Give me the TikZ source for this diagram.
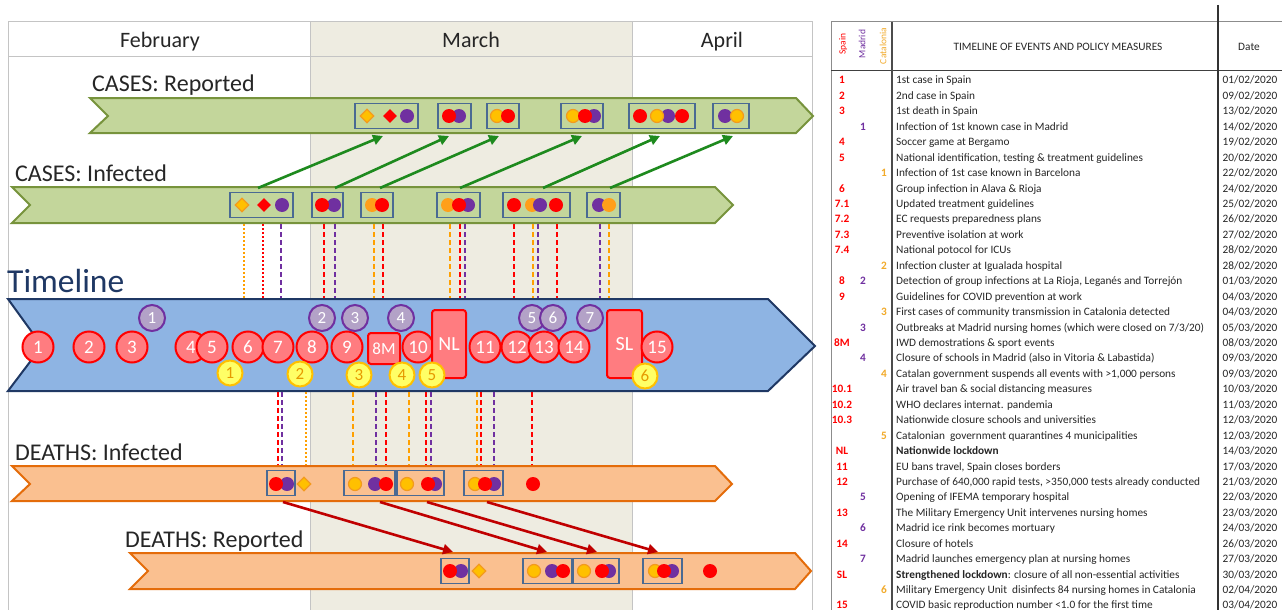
\documentclass[tikz,border=0pt]{standalone}
\usepackage{fontspec}
\setmainfont{Carlito}
\usetikzlibrary{arrows.meta,shapes.geometric}
\definecolor{cR}{HTML}{FF0000}
\definecolor{cP}{HTML}{7030A0}
\definecolor{cG}{HTML}{FFC000}
\definecolor{cO}{HTML}{F39A1E}
\definecolor{cOi}{HTML}{FF9F1A}
\definecolor{cL}{HTML}{FFA000}
\definecolor{cC}{HTML}{F2AA2A}
\definecolor{mshade}{HTML}{EEECE1}
\definecolor{frm}{HTML}{C4C4C4}
\definecolor{grnF}{HTML}{C3D69B}
\definecolor{grnD}{HTML}{77933C}
\definecolor{bluF}{HTML}{8EB4E3}
\definecolor{bluD}{HTML}{1F3864}
\definecolor{orF}{HTML}{FAC090}
\definecolor{orD}{HTML}{E46C0A}
\definecolor{bxc}{HTML}{4A6A93}
\definecolor{arG}{HTML}{1E8A1E}
\definecolor{arR}{HTML}{C00000}
\definecolor{pnk}{HTML}{FF7C80}
\definecolor{lav}{HTML}{B3A2C7}
\definecolor{yel}{HTML}{FFFF66}
\definecolor{ytx}{HTML}{E69A00}
\definecolor{txt}{HTML}{262626}
\newcounter{dn}
\newcommand{\mkd}[3]{\stepcounter{dn}\node[#1] (d\thedn) at (#2,#3) {};}
\newcommand{\trow}[6]{%
  \pgfmathsetmacro{\ry}{80+(#1-1)*15.44+4}%
  \node[tsp] (rs#1) at (842,\ry) {#2};
  \node[tma] (rm#1) at (863,\ry) {#3};
  \node[tca] (rc#1) at (884,\ry) {#4};
  \node[ttx] (rt#1) at (896,\ry) {#5};
  \node[tdt] (rd#1) at (1250,\ry) {#6};
}
\tikzset{
  dR/.style={circle,inner sep=0,minimum size=14,fill=cR},
  dP/.style={circle,inner sep=0,minimum size=14,fill=cP},
  dG/.style={circle,inner sep=0,minimum size=13,fill=cG,draw=cO,line width=1.2},
  dO/.style={circle,inner sep=0,minimum size=14,fill=cOi},
  kR/.style={diamond,inner sep=0,minimum size=14,fill=cR},
  kG/.style={diamond,inner sep=0,minimum size=14,fill=cG,draw=cO,line width=1.2},
  bx/.style={draw=bxc,line width=1.6,inner sep=0,minimum height=25},
  tR/.style={circle,inner sep=0,minimum size=31,fill=pnk,draw=cR,line width=2,text=white,font=\fontsize{19}{19}\selectfont},
  tP/.style={circle,inner sep=0,minimum size=26,fill=lav,draw=cP,line width=2,text=white,font=\fontsize{17}{17}\selectfont},
  tY/.style={circle,inner sep=0,minimum size=25,fill=yel,draw=cG,line width=2,text=ytx,font=\fontsize{17}{17}\selectfont},
  tQ/.style={rounded corners=3,inner sep=0,fill=pnk,draw=cR,line width=2,text=white},
  lbl/.style={anchor=base west,inner sep=0,text=txt,font=\fontsize{24}{24}\selectfont},
  mon/.style={anchor=base,inner sep=0,text=txt,font=\fontsize{22}{22}\selectfont},
  dl/.style={line width=2.2,dash pattern=on 5pt off 3pt},
  dt/.style={line width=2.2,dash pattern=on 2pt off 2pt},
  gar/.style={draw=arG,line width=2.6,-{Triangle[length=10,width=10]}},
  rar/.style={draw=arR,line width=2.6,-{Triangle[length=10,width=10]}},
  tsp/.style={anchor=base,inner sep=0,text=cR,font=\fontsize{11.3}{12}\selectfont\bfseries},
  tma/.style={anchor=base,inner sep=0,text=cP,font=\fontsize{11.3}{12}\selectfont\bfseries},
  tca/.style={anchor=base,inner sep=0,text=cC,font=\fontsize{11.3}{12}\selectfont\bfseries},
  ttx/.style={anchor=base west,inner sep=0,text=txt,font=\fontsize{11.3}{12}\selectfont},
  tdt/.style={anchor=base,inner sep=0,text=txt,font=\fontsize{11.3}{12}\selectfont},
}
\begin{document}
\begin{tikzpicture}[x=1pt,y=-1pt]
\useasboundingbox (0,0) rectangle (1282,610);
\fill[white] (0,0) rectangle (1282,610);
% ---- left panel frame
\fill[mshade] (310,22) rectangle (632,610);
\draw[frm,line width=1] (8,610) -- (8,22) -- (812,22) -- (812,610);
\draw[frm,line width=1] (8,57) -- (812,57);
\draw[frm,line width=1] (310,22) -- (310,610);
\draw[frm,line width=1] (632,22) -- (632,610);
\node[mon] (mfeb) at (160,48) {February};
\node[mon] (mmar) at (471,48) {March};
\node[mon] (mapr) at (722,48) {April};
% ---- bars
\draw[fill=grnF,draw=grnD,line width=2] (90,98) -- (796,98) -- (813,116) -- (796,133) -- (90,133) -- (108,116) -- cycle;
\draw[fill=grnF,draw=grnD,line width=2] (12,187) -- (715,187) -- (733,205) -- (715,223) -- (12,223) -- (30,205) -- cycle;
\draw[fill=bluF,draw=bluD,line width=2] (8,299) -- (768,299) -- (815,346) -- (768,391) -- (8,391) -- (42,346) -- cycle;
\draw[fill=orF,draw=orD,line width=2] (12,466) -- (715,466) -- (732,484) -- (715,501) -- (12,501) -- (30,484) -- cycle;
\draw[fill=orF,draw=orD,line width=2] (130,553) -- (795,553) -- (811,571) -- (795,589) -- (130,589) -- (148,571) -- cycle;
\node[lbl] (lcr) at (92,92) {CASES: Reported};
\node[lbl] (lci) at (15,181) {CASES: Infected};
\node[lbl] (ldi) at (15,460) {DEATHS: Infected};
\node[lbl] (ldr) at (125,547) {DEATHS: Reported};
\node[anchor=base west,inner sep=0,text=bluD,font=\fontsize{33.5}{33.5}\selectfont] (ltl) at (7,292) {Timeline};
% ---- dashed lines
\foreach \x/\c in {281/cP,324/cR,335/cP,374/cL,383/cR,450/cL,460/cR,465/cP,514/cR,533/cL,538/cP,557/cR,600/cP,609/cL}
  \draw[dl,draw=\c] (\x,224) -- (\x,298);
\foreach \x/\c in {244/cL,263/cR}
  \draw[dt,draw=\c] (\x,224) -- (\x,298);
\foreach \x/\c in {278/cR,282/cP,353/cL,376/cP,386/cR,409/cL,426/cR,431/cP,477/cL,481/cR,494/cP,532/cR}
  \draw[dl,draw=\c] (\x,392) -- (\x,465);
\draw[dt,draw=cL] (306,392) -- (306,465);
% ---- CASES reported
\node[bx,minimum width=63] (cr1) at (386.5,116) {};
\node[bx,minimum width=33] (cr2) at (454.5,116) {};
\node[bx,minimum width=32] (cr3) at (503,116) {};
\node[bx,minimum width=42] (cr4) at (582,116) {};
\node[bx,minimum width=66] (cr5) at (662,116) {};
\node[bx,minimum width=36] (cr6) at (731,116) {};
\mkd{kG}{367}{116}\mkd{kR}{390}{116}\mkd{dP}{407}{116}
\mkd{dP}{459}{116}\mkd{dR}{449}{116}
\mkd{dG}{497}{116}\mkd{dR}{508}{116}
\mkd{dG}{573}{116}\mkd{dP}{594}{116}\mkd{dR}{585}{116}
\mkd{dR}{640}{116}\mkd{dP}{668}{116}\mkd{dG}{657}{116}\mkd{dR}{682}{116}
\mkd{dP}{725}{116}\mkd{dG}{737}{116}
% ---- CASES infected
\node[bx,minimum width=63] (ci1) at (261.5,205) {};
\node[bx,minimum width=31] (ci2) at (327.5,205) {};
\node[bx,minimum width=32] (ci3) at (377,205) {};
\node[bx,minimum width=43] (ci4) at (458.5,205) {};
\node[bx,minimum width=67] (ci5) at (536.5,205) {};
\node[bx,minimum width=33] (ci6) at (603.5,205) {};
\mkd{kG}{242}{205}\mkd{kR}{264}{205}\mkd{dP}{282}{205}
\mkd{dP}{334}{205}\mkd{dR}{322}{205}
\mkd{dO}{372}{205}\mkd{dR}{382}{205}
\mkd{dO}{448}{205}\mkd{dP}{468}{205}\mkd{dR}{459}{205}
\mkd{dR}{514}{205}\mkd{dO}{532}{205}\mkd{dP}{540}{205}\mkd{dR}{556}{205}
\mkd{dP}{599}{205}\mkd{dO}{609}{205}
% ---- green arrows
\foreach \i/\a/\b in {1/258/383,2/335/449,3/380/499,4/460/582,5/543/660,6/610/733}{
  \coordinate (gs\i) at (\a,188);
  \coordinate (ge\i) at (\b,136);
  \draw[gar] (gs\i) -- (ge\i);
}
% ---- DEATHS infected
\node[bx,minimum width=28] (di1) at (281,483) {};
\node[bx,minimum width=51] (di2) at (369.5,483) {};
\node[bx,minimum width=47] (di3) at (420.5,483) {};
\node[bx,minimum width=39] (di4) at (483.5,483) {};
\mkd{dP}{287}{484}\mkd{dR}{276}{484}
\mkd{kG}{304}{484}
\mkd{dG}{355}{484}\mkd{dP}{375}{484}\mkd{dR}{386}{484}
\mkd{dG}{407}{484}\mkd{dP}{435}{484}\mkd{dR}{428}{484}
\mkd{dG}{475}{484}\mkd{dP}{494}{484}\mkd{dR}{485}{484}
\mkd{dR}{533}{484}
% ---- DEATHS reported
\node[bx,minimum width=28] (dr1) at (455,571) {};
\node[bx,minimum width=49] (dr2) at (547.5,571) {};
\node[bx,minimum width=46] (dr3) at (596,571) {};
\node[bx,minimum width=39] (dr4) at (662.5,571) {};
\mkd{dP}{461}{571}\mkd{dR}{450}{571}
\mkd{kG}{479}{571}
\mkd{dG}{534}{571}\mkd{dP}{552}{571}\mkd{dR}{563}{571}
\mkd{dG}{584}{571}\mkd{dP}{609}{571}\mkd{dR}{602}{571}
\mkd{dG}{655}{571}\mkd{dP}{672}{571}\mkd{dR}{664}{571}
\mkd{dR}{710}{571}
% ---- red arrows
\foreach \i/\a/\b in {1/283/453,2/380/547,3/427/597,4/487/658}{
  \coordinate (rs\i) at (\a,502);
  \coordinate (re\i) at (\b,552);
  \draw[rar] (rs\i) -- (re\i);
}
% ---- timeline events
\node[tR] (e1) at (38,347) {1};
\node[tR] (e2) at (89,347) {2};
\node[tR] (e3) at (132,347) {3};
\node[tR] (e4) at (191,347) {4};
\node[tR] (e5) at (212,347) {5};
\node[tR] (e6) at (248,347) {6};
\node[tR] (e7) at (278,347) {7};
\node[tR] (e8) at (312,347) {8};
\node[tR] (e9) at (347,347) {9};
\node[tQ,minimum width=32,minimum height=31,font=\fontsize{17}{17}\selectfont] (e8M) at (384,348.5) {8M};
\node[tR] (e10) at (418,347) {10};
\node[tQ,minimum width=34,minimum height=68,font=\fontsize{20}{20}\selectfont] (eNL) at (449,344) {NL};
\node[tR] (e11) at (485,347) {11};
\node[tR] (e12) at (517,347) {12};
\node[tR] (e13) at (544,347) {13};
\node[tR] (e14) at (574,347) {14};
\node[tQ,minimum width=35,minimum height=68,font=\fontsize{20}{20}\selectfont] (eSL) at (624.5,344) {SL};
\node[tR] (e15) at (657,347) {15};
\node[tP] (m1) at (152,318) {1};
\node[tP] (m2) at (322,318) {2};
\node[tP] (m3) at (355,318) {3};
\node[tP] (m4) at (401,318) {4};
\node[tP] (m5) at (532,318) {5};
\node[tP] (m6) at (553,318) {6};
\node[tP] (m7) at (590,318) {7};
\node[tY] (c1) at (230,373) {1};
\node[tY] (c2) at (300,374) {2};
\node[tY] (c3) at (359,375) {3};
\node[tY] (c4) at (402,375) {4};
\node[tY] (c5) at (432,375) {5};
\node[tY] (c6) at (645,376) {6};
% ---- table
\draw[black!45,line width=1] (831,610) -- (831,22) -- (1282,22);
\draw[black!75,line width=1] (831,71) -- (1282,71);
\draw[black!70,line width=1.2] (892,22) -- (892,610);
\draw[black!80,line width=1.2] (1218,5) -- (1218,610);
\node[rotate=90,inner sep=0,text=cR,font=\fontsize{9.5}{9.5}\selectfont] (hsp) at (843,44) {Spain};
\node[rotate=90,inner sep=0,text=cP,font=\fontsize{9.5}{9.5}\selectfont] (hma) at (862,44) {Madrid};
\node[rotate=90,inner sep=0,text=cC,font=\fontsize{9.5}{9.5}\selectfont] (hca) at (883,46) {Catalonia};
\node[inner sep=0,text=txt,font=\fontsize{11.3}{12}\selectfont] (hti) at (1058,47) {TIMELINE OF EVENTS AND POLICY MEASURES};
\node[inner sep=0,text=txt,font=\fontsize{11.3}{12}\selectfont] (hdt) at (1249,47) {Date};
\trow{1}{1}{}{}{1st case in Spain}{01/02/2020}
\trow{2}{2}{}{}{2nd case in Spain}{09/02/2020}
\trow{3}{3}{}{}{1st death in Spain}{13/02/2020}
\trow{4}{}{1}{}{Infection of 1st known case in Madrid}{14/02/2020}
\trow{5}{4}{}{}{Soccer game at Bergamo}{19/02/2020}
\trow{6}{5}{}{}{National identification, testing \& treatment guidelines}{20/02/2020}
\trow{7}{}{}{1}{Infection of 1st case known in Barcelona}{22/02/2020}
\trow{8}{6}{}{}{Group infection in Alava \& Rioja}{24/02/2020}
\trow{9}{7.1}{}{}{Updated treatment guidelines}{25/02/2020}
\trow{10}{7.2}{}{}{EC requests preparedness plans}{26/02/2020}
\trow{11}{7.3}{}{}{Preventive isolation at work}{27/02/2020}
\trow{12}{7.4}{}{}{National potocol for ICUs}{28/02/2020}
\trow{13}{}{}{2}{Infection cluster at Igualada hospital}{28/02/2020}
\trow{14}{8}{2}{}{Detection of group infections at La Rioja, Leganés and Torrejón}{01/03/2020}
\trow{15}{9}{}{}{Guidelines for COVID prevention at work}{04/03/2020}
\trow{16}{}{}{3}{First cases of community transmission in Catalonia detected}{04/03/2020}
\trow{17}{}{3}{}{Outbreaks at Madrid nursing homes (which were closed on 7/3/20)}{05/03/2020}
\trow{18}{8M}{}{}{IWD demostrations \& sport events}{08/03/2020}
\trow{19}{}{4}{}{Closure of schools in Madrid (also in Vitoria \& Labastida)}{09/03/2020}
\trow{20}{}{}{4}{Catalan government suspends all events with >1,000 persons}{09/03/2020}
\trow{21}{10.1}{}{}{Air travel ban \& social distancing measures}{10/03/2020}
\trow{22}{10.2}{}{}{WHO declares internat. pandemia}{11/03/2020}
\trow{23}{10.3}{}{}{Nationwide closure schools and universities}{12/03/2020}
\trow{24}{}{}{5}{Catalonian\ \ government quarantines 4 municipalities}{12/03/2020}
\trow{25}{NL}{}{}{\textbf{Nationwide lockdown}}{14/03/2020}
\trow{26}{11}{}{}{EU bans travel, Spain closes borders}{17/03/2020}
\trow{27}{12}{}{}{Purchase of 640,000 rapid tests, >350,000 tests already conducted}{21/03/2020}
\trow{28}{}{5}{}{Opening of IFEMA temporary hospital}{22/03/2020}
\trow{29}{13}{}{}{The Military Emergency Unit intervenes nursing homes}{23/03/2020}
\trow{30}{}{6}{}{Madrid ice rink becomes mortuary}{24/03/2020}
\trow{31}{14}{}{}{Closure of hotels}{26/03/2020}
\trow{32}{}{7}{}{Madrid launches emergency plan at nursing homes}{27/03/2020}
\trow{33}{SL}{}{}{\textbf{Strengthened lockdown}: closure of all non-essential activities}{30/03/2020}
\trow{34}{}{}{6}{Military Emergency Unit\ \ disinfects 84 nursing homes in Catalonia}{02/04/2020}
\trow{35}{15}{}{}{COVID basic reproduction number <1.0 for the first time}{03/04/2020}
\end{tikzpicture}
\end{document}
